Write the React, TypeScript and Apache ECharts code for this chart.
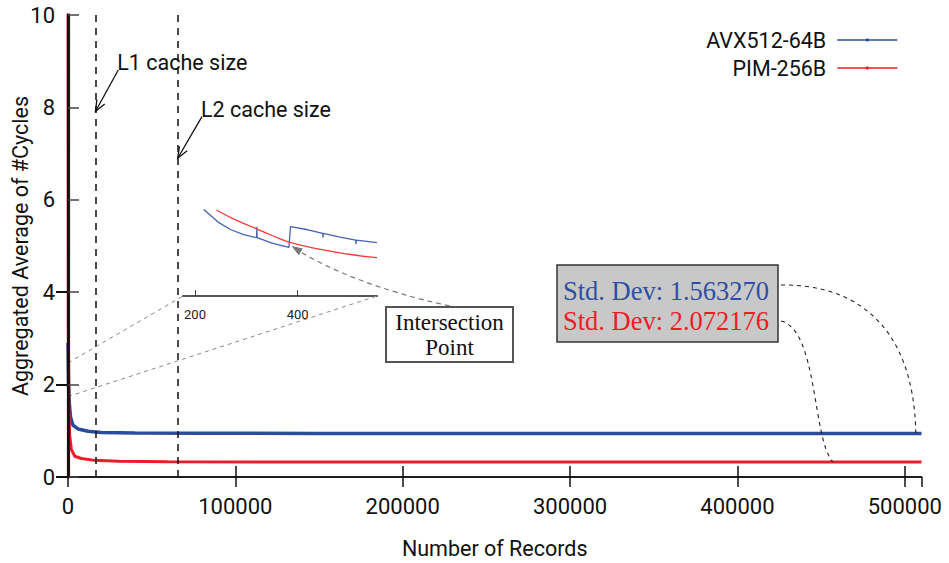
import React, { useEffect, useRef } from "react";
import * as echarts from "echarts";

// ---------- data ----------
const X_MAX = 510000;
const Y_MAX = 10;
const xTicksInterval = 100000;

const avxX = [0, 300, 800, 1500, 3000, 6000, 12000, 20000, 40000, 80000, 150000, 250000, 350000, 450000, 510000];
const avxY = [2.9, 2.0, 1.6, 1.3, 1.12, 1.04, 0.99, 0.965, 0.95, 0.945, 0.944, 0.944, 0.944, 0.944, 0.944];

const pimX = [0, 200, 500, 1000, 2000, 4000, 8000, 16000, 30000, 60000, 120000, 250000, 400000, 510000];
const pimY = [12, 3.2, 1.5, 0.9, 0.6, 0.45, 0.4, 0.36, 0.34, 0.33, 0.325, 0.325, 0.325, 0.325];

const cacheLines = [
  { name: "L1 cache size", x: 16384, tail: [30050, 8.81], head: [16384, 7.91] },
  { name: "L2 cache size", x: 65536, tail: [80050, 7.8], head: [65536, 6.9] },
];

// inset (zoomed view of the first few hundred records)
const INSET_X_MIN = 176.6;
const INSET_X_MAX = 554.6;
const INSET_Y_MIN = 1.5;
const INSET_Y_MAX = 2.5;
const insetTicks = [200, 400];
const insetAvxX = [217, 245, 270, 295, 320, 320.5, 321, 350, 383, 386, 420, 449, 449.5, 450, 480, 513, 513.5, 514, 554.6];
const insetAvxY = [2.4, 2.27, 2.19, 2.14, 2.107, 2.22, 2.107, 2.05, 2.007, 2.222, 2.19, 2.153, 2.11, 2.153, 2.115, 2.083, 2.04, 2.083, 2.055];
const insetPimX = [242, 280, 320, 350, 385, 450, 500, 554.6];
const insetPimY = [2.396, 2.29, 2.2, 2.13, 2.059, 1.98, 1.935, 1.899];
const intersection = [388, 2.02];
const zoomSource = [[0, 2.47], [0, 1.74]];

const stdDevAvx = "Std. Dev: 1.563270";
const stdDevPim = "Std. Dev: 2.072176";
const stdDevTargets = { avx: [506600, 0.95], pim: [457000, 0.325] };

const seriesNames = ["AVX512-64B", "PIM-256B"];

// ---------- styles ----------
const SANS = "Roboto, 'Liberation Sans', sans-serif";
const SERIF = "'Liberation Serif', 'DejaVu Serif', serif";
const FS = 21.5;
const BLUE = "#2b4c9e";
const RED = "#ee1c2a";
const BLUE_TXT = "#2f4fa5";
const RED_TXT = "#ee1c24";

const pairs = (xs: number[], ys: number[]) => xs.map((x, i) => [x, ys[i]]);

export default function App() {
  const ref = useRef<HTMLDivElement>(null);

  useEffect(() => {
    document.body.style.margin = "0";
    const chart = echarts.init(ref.current!, null, { renderer: "svg" });

    const option: any = {
      animation: false,
      backgroundColor: "#ffffff",
      legend: {
        orient: "vertical",
        right: 51,
        top: 29,
        padding: 0,
        align: "right",
        itemWidth: 60,
        itemHeight: 4,
        itemGap: 6,
        lineStyle: { width: 1.5 },
        textStyle: { fontFamily: SANS, fontSize: FS, color: "#111", padding: [0, 6, 0, 0] },
        data: seriesNames,
      },
      grid: [
        { left: 68, top: 15, right: 27.5, bottom: 86, outerBoundsMode: "none", containLabel: false },
        { left: 183, top: 200, width: 194, height: 96, outerBoundsMode: "none", containLabel: false },
      ],
      xAxis: [
        {
          type: "value",
          gridIndex: 0,
          min: 0,
          max: X_MAX,
          interval: xTicksInterval,
          name: "Number of Records",
          nameLocation: "middle",
          nameGap: 60,
          nameTextStyle: { fontFamily: SANS, fontSize: FS, color: "#111" },
          axisLine: { show: true, lineStyle: { color: "#111", width: 1.5 } },
          axisTick: { show: true, inside: true, length: 11, lineStyle: { color: "#111", width: 1.5 } },
          axisLabel: {
            fontFamily: SANS,
            fontSize: 22,
            color: "#111",
            margin: 18,
            showMaxLabel: false,
            formatter: (v: number) => String(v),
          },
          splitLine: { show: false },
          z: 10,
        },
        {
          type: "value",
          gridIndex: 0,
          position: "top",
          min: 0,
          max: X_MAX,
          interval: xTicksInterval,
          axisLine: { show: true, lineStyle: { color: "#111", width: 1.5 } },
          axisTick: { show: true, inside: true, length: 10, lineStyle: { color: "#111", width: 1.5 } },
          axisLabel: { show: false },
          splitLine: { show: false },
          z: 10,
        },
        {
          type: "value",
          gridIndex: 1,
          min: INSET_X_MIN,
          max: INSET_X_MAX,
          axisLine: { show: true, lineStyle: { color: "#555", width: 2 } },
          axisTick: { show: true, inside: true, length: 6, customValues: insetTicks, lineStyle: { color: "#444", width: 1 } },
          axisLabel: { fontFamily: SANS, fontSize: 13, color: "#222", margin: 12, customValues: insetTicks },
          splitLine: { show: false },
        },
      ],
      yAxis: [
        {
          type: "value",
          gridIndex: 0,
          min: 0,
          max: Y_MAX,
          interval: 2,
          name: "Aggregated Average of #Cycles",
          nameLocation: "middle",
          nameGap: 37,
          nameMoveOverlap: false,
          nameTextStyle: { fontFamily: SANS, fontSize: FS, color: "#111" },
          axisLine: { show: true, lineStyle: { color: "#3a0f0f", width: 3.2 } },
          axisTick: { show: true, inside: true, length: 11, lineStyle: { color: "#444", width: 1.5 } },
          axisLabel: { fontFamily: SANS, fontSize: 22, color: "#111", margin: 13 },
          splitLine: { show: false },
          z: 10,
        },
        {
          type: "value",
          gridIndex: 0,
          position: "right",
          min: 0,
          max: Y_MAX,
          interval: 2,
          axisLine: { show: true, lineStyle: { color: "#111", width: 1.5 } },
          axisTick: { show: true, inside: true, length: 12, customValues: [0, 2, 4], lineStyle: { color: "#111", width: 2 } },
          axisLabel: { show: false },
          splitLine: { show: false },
          z: 10,
        },
        {
          type: "value",
          gridIndex: 1,
          min: INSET_Y_MIN,
          max: INSET_Y_MAX,
          show: false,
          splitLine: { show: false },
        },
      ],
      series: [
        {
          name: seriesNames[0],
          type: "line",
          xAxisIndex: 0,
          yAxisIndex: 0,
          data: pairs(avxX, avxY),
          showSymbol: false,
          symbol: "circle",
          symbolSize: 3,
          color: BLUE,
          lineStyle: { color: BLUE, width: 3.5 },
          z: 3,
          markLine: {
            silent: true,
            symbol: "none",
            label: { show: false },
            lineStyle: { color: "#111", type: [7, 6], width: 1.5 },
            data: cacheLines.map((c) => ({ xAxis: c.x })),
            z: 5,
          },
        },
        {
          name: seriesNames[1],
          type: "line",
          xAxisIndex: 0,
          yAxisIndex: 0,
          data: pairs(pimX, pimY),
          showSymbol: false,
          symbol: "circle",
          symbolSize: 3,
          color: RED,
          lineStyle: { color: RED, width: 3 },
          z: 3,
        },
        {
          name: "inset-avx",
          type: "line",
          xAxisIndex: 2,
          yAxisIndex: 2,
          data: pairs(insetAvxX, insetAvxY),
          showSymbol: false,
          color: "#4363b2",
          lineStyle: { color: "#4363b2", width: 1.3 },
        },
        {
          name: "inset-pim",
          type: "line",
          xAxisIndex: 2,
          yAxisIndex: 2,
          smooth: true,
          data: pairs(insetPimX, insetPimY),
          showSymbol: false,
          color: "#f03c3c",
          lineStyle: { color: "#f03c3c", width: 1.3 },
        },
      ],
    };

    chart.setOption(option);

    const main = (p: number[]) => chart.convertToPixel({ gridIndex: 0 }, p) as number[];
    const inset = (p: number[]) => chart.convertToPixel({ gridIndex: 1 }, p) as number[];

    const graphics: any[] = [];

    // cache-size annotations with open arrows
    cacheLines.forEach((c) => {
      const t = main(c.tail);
      const h = main(c.head);
      graphics.push({
        type: "line",
        shape: { x1: t[0], y1: t[1], x2: h[0], y2: h[1] },
        style: { stroke: "#111", lineWidth: 1.3 },
        z: 10,
      });
      const ang = Math.atan2(t[1] - h[1], t[0] - h[0]);
      const L = 12;
      const a1 = ang + 0.38;
      const a2 = ang - 0.38;
      graphics.push({
        type: "polyline",
        shape: {
          points: [
            [h[0] + L * Math.cos(a1), h[1] + L * Math.sin(a1)],
            [h[0], h[1]],
            [h[0] + L * Math.cos(a2), h[1] + L * Math.sin(a2)],
          ],
        },
        style: { stroke: "#111", lineWidth: 1.3, fill: null },
        z: 10,
      });
      graphics.push({
        type: "text",
        x: t[0] - 1,
        y: t[1] - 7,
        style: { text: c.name, fontFamily: SANS, fontSize: FS, fill: "#111", align: "left", verticalAlign: "middle" },
        z: 10,
      });
    });

    // zoom guide lines to the inset
    const s1 = main(zoomSource[0]);
    const s2 = main(zoomSource[1]);
    const i1 = inset([INSET_X_MIN, INSET_Y_MIN]);
    const i2 = inset([INSET_X_MAX, INSET_Y_MIN]);
    [[s1, i1], [s2, i2]].forEach(([a, b]) => {
      graphics.push({
        type: "line",
        shape: { x1: a[0], y1: a[1], x2: b[0], y2: b[1] },
        style: { stroke: "#888", lineWidth: 1, lineDash: [4, 4] },
        z: 8,
      });
    });

    // intersection point arrow and box
    const ip = inset(intersection);
    const start = [450, 306];
    const cp1 = [380, 291];
    const cp2 = [330, 270];
    graphics.push({
      type: "bezierCurve",
      shape: { x1: start[0], y1: start[1], cpx1: cp1[0], cpy1: cp1[1], cpx2: cp2[0], cpy2: cp2[1], x2: ip[0] + 6, y2: ip[1] + 4 },
      style: { stroke: "#777", lineWidth: 1.2, lineDash: [5, 4], fill: null },
      z: 8,
    });
    {
      const ang = Math.atan2(ip[1] - cp2[1], ip[0] - cp2[0]);
      const L = 11;
      const back = [ip[0] - L * Math.cos(ang), ip[1] - L * Math.sin(ang)];
      const nx = -Math.sin(ang) * 4;
      const ny = Math.cos(ang) * 4;
      graphics.push({
        type: "polygon",
        shape: { points: [[ip[0], ip[1]], [back[0] + nx, back[1] + ny], [back[0] - nx, back[1] - ny]] },
        style: { fill: "#777" },
        z: 9,
      });
    }
    graphics.push({
      type: "rect",
      shape: { x: 386, y: 307, width: 127, height: 55 },
      style: { fill: "#fff", stroke: "#555", lineWidth: 2 },
      z: 10,
    });
    graphics.push({
      type: "text",
      x: 449.5,
      y: 322,
      style: { text: "Intersection", fontFamily: SERIF, fontSize: 23, fill: "#111", align: "center", verticalAlign: "middle" },
      z: 11,
    });
    graphics.push({
      type: "text",
      x: 449.5,
      y: 347,
      style: { text: "Point", fontFamily: SERIF, fontSize: 23, fill: "#111", align: "center", verticalAlign: "middle" },
      z: 11,
    });

    // std-dev box and leader curves
    graphics.push({
      type: "rect",
      shape: { x: 557, y: 265, width: 221, height: 77 },
      style: { fill: "#c8c8c8", stroke: "#333", lineWidth: 1.5 },
      z: 10,
    });
    graphics.push({
      type: "text",
      x: 563,
      y: 291,
      style: { text: stdDevAvx, fontFamily: SERIF, fontSize: 26.5, fill: BLUE_TXT, align: "left", verticalAlign: "middle" },
      z: 11,
    });
    graphics.push({
      type: "text",
      x: 563,
      y: 321,
      style: { text: stdDevPim, fontFamily: SERIF, fontSize: 26.5, fill: RED_TXT, align: "left", verticalAlign: "middle" },
      z: 11,
    });
    const ta = main(stdDevTargets.avx);
    const tp = main(stdDevTargets.pim);
    graphics.push({
      type: "bezierCurve",
      shape: { x1: 781, y1: 285, cpx1: 855, cpy1: 284, cpx2: ta[0] - 2, cpy2: 325, x2: ta[0], y2: ta[1] },
      style: { stroke: "#222", lineWidth: 1.1, lineDash: [4, 4], fill: null },
      z: 9,
    });
    graphics.push({
      type: "bezierCurve",
      shape: { x1: 781, y1: 321, cpx1: 818, cpy1: 330, cpx2: 812, cpy2: 438, x2: tp[0], y2: tp[1] },
      style: { stroke: "#222", lineWidth: 1.1, lineDash: [4, 4], fill: null },
      z: 9,
    });

    chart.setOption({ graphic: graphics });

    return () => chart.dispose();
  }, []);

  return <div ref={ref} style={{ position: "absolute", left: 0, top: 0, width: 949, height: 563 }} />;
}
